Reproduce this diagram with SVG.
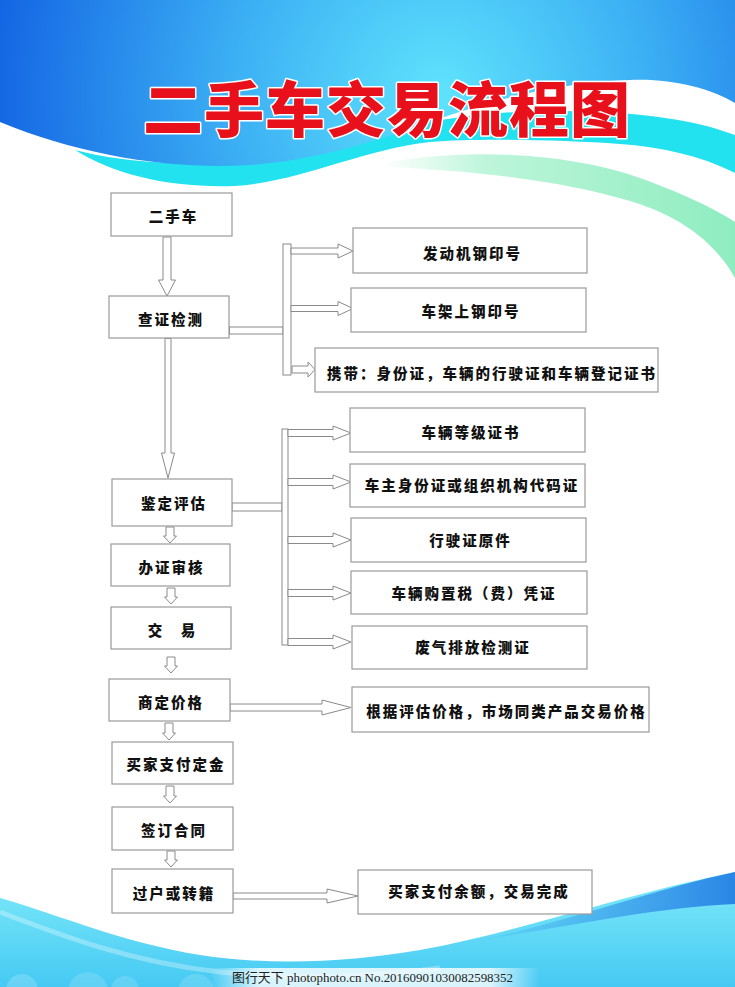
<svg xmlns="http://www.w3.org/2000/svg" width="735" height="987" viewBox="0 0 735 987">
<defs>
<radialGradient id="gTop" gradientUnits="userSpaceOnUse" cx="440" cy="95" r="460">
<stop offset="0" stop-color="#5fe3fc"/>
<stop offset="0.45" stop-color="#3cb0f4"/>
<stop offset="1" stop-color="#1262e3"/>
</radialGradient>
<linearGradient id="gMint" gradientUnits="userSpaceOnUse" x1="380" y1="0" x2="735" y2="0">
<stop offset="0" stop-color="#c0f6dc" stop-opacity="0"/>
<stop offset="0.3" stop-color="#bdf5da"/>
<stop offset="1" stop-color="#8eedc0"/>
</linearGradient>
<linearGradient id="gBot" gradientUnits="userSpaceOnUse" x1="0" y1="900" x2="0" y2="987">
<stop offset="0" stop-color="#72e3f8"/>
<stop offset="1" stop-color="#45c9f3"/>
</linearGradient>
<linearGradient id="gBotBlue" gradientUnits="userSpaceOnUse" x1="470" y1="0" x2="735" y2="0">
<stop offset="0" stop-color="#2a86e6" stop-opacity="0"/>
<stop offset="1" stop-color="#2a86e6"/>
</linearGradient>
<linearGradient id="gMark" gradientUnits="userSpaceOnUse" x1="210" y1="0" x2="540" y2="0">
<stop offset="0" stop-color="#ffffff" stop-opacity="0"/>
<stop offset="0.15" stop-color="#ffffff" stop-opacity="0.8"/>
<stop offset="0.85" stop-color="#ffffff" stop-opacity="0.8"/>
<stop offset="1" stop-color="#ffffff" stop-opacity="0"/>
</linearGradient>
</defs>
<style>
.box{fill:#ffffff;stroke:#9a9a9a;stroke-width:1.2}
.lbl{font-family:"Noto Sans CJK SC","Noto Sans",sans-serif;font-weight:900;font-size:14.5px;letter-spacing:2px;fill:#111111;text-anchor:middle}
.arr{fill:#ffffff;stroke:#8a8a8a;stroke-width:1}
.title{font-family:"Noto Sans CJK SC","Noto Sans",sans-serif;font-weight:900;font-size:60px;letter-spacing:1px;fill:#e8101a;stroke:#ffffff;stroke-width:3;paint-order:stroke;stroke-linejoin:round}
</style>
<rect x="0" y="0" width="735" height="987" fill="#ffffff"/>
<g id="background">
<path d="M370,166 C450,148 560,150 640,178 C690,196 720,212 735,222 V278 C715,242 680,216 630,201 C560,180 470,170 370,166 Z" fill="url(#gMint)"/>
<path d="M75,150 C150,170 280,170 380,135 C440,115 520,108 600,112 C660,115 700,122 735,135 V173 C700,155 660,147 620,144 C560,140 480,138 430,142 C360,150 300,182 234,186 C170,188 115,175 75,150 Z" fill="#22e2f0"/>
<path d="M0,0 H735 V103 C710,88 670,78 630,80 C570,82 510,95 450,115 C380,140 320,160 250,165 C170,170 80,155 0,122 Z" fill="url(#gTop)"/>
<path d="M0,898 C60,915 120,942 200,955 C270,966 350,962 420,950 C520,932 620,895 735,872 V987 H0 Z" fill="url(#gBot)"/>
<path d="M470,942 C560,925 650,890 735,872 V904 C650,908 560,928 470,942 Z" fill="url(#gBotBlue)"/>
<path d="M0,912 C60,935 130,962 220,972 C300,980 380,976 440,968" fill="none" stroke="#ffffff" stroke-opacity="0.3" stroke-width="5"/>
<circle cx="22" cy="990" r="16" fill="#ffffff" fill-opacity="0.18"/>
<circle cx="88" cy="992" r="20" fill="#ffffff" fill-opacity="0.15"/>
<circle cx="125" cy="990" r="14" fill="#ffffff" fill-opacity="0.15"/>
<circle cx="196" cy="992" r="18" fill="#ffffff" fill-opacity="0.15"/>
<rect x="210" y="968" width="330" height="19" fill="url(#gMark)"/>
<text x="232" y="982" font-family="'Liberation Serif','Noto Sans CJK SC',serif" font-size="13" fill="#222222" textLength="281" lengthAdjust="spacingAndGlyphs">图行天下 photophoto.cn No.20160901030082598352</text>
</g>
<text class="title" x="143" y="132">二手车交易流程图</text>
<g id="connectors">
<polygon class="arr" points="163,237 171,237 171,280 175.5,280 167,296 158.5,280 163,280"/>
<polygon class="arr" points="165,338.5 171,338.5 171,453 174.5,453 168,478 161.5,453 165,453"/>
<polygon class="arr" points="166,527 174,527 174,536 176.5,536 170,543 163.5,536 166,536"/>
<polygon class="arr" points="167,588 175,588 175,597 177.5,597 171,604 164.5,597 167,597"/>
<polygon class="arr" points="167,657 175,657 175,666 177.5,666 171,673 164.5,666 167,666"/>
<polygon class="arr" points="165,723 173,723 173,733 175.5,733 169,740 162.5,733 165,733"/>
<polygon class="arr" points="166,786 174,786 174,796 176.5,796 170,803 163.5,796 166,796"/>
<polygon class="arr" points="167,851 175,851 175,860 177.5,860 171,867 164.5,860 167,860"/>
<rect class="arr" x="229.5" y="327" width="53.5" height="7"/>
<rect class="arr" x="283" y="244" width="8" height="131"/>
<polygon class="arr" points="291,248 338,248 338,244 353,251 338,258 338,254 291,254"/>
<polygon class="arr" points="291,305.5 338,305.5 338,301.5 353,308.5 338,315.5 338,311.5 291,311.5"/>
<polygon class="arr" points="292,366 308,366 308,362 315,369.5 308,377 308,373 292,373"/>
<rect class="arr" x="232" y="503" width="50" height="8"/>
<rect class="arr" x="282" y="429" width="6" height="216"/>
<polygon class="arr" points="288,429.5 333,429.5 333,426 351,433 333,440 333,436.5 288,436.5"/>
<polygon class="arr" points="288,478.5 333,478.5 333,475 351,482 333,489 333,485.5 288,485.5"/>
<polygon class="arr" points="288,536.5 333,536.5 333,533 351,540 333,547 333,543.5 288,543.5"/>
<polygon class="arr" points="288,589.5 333,589.5 333,586 351,593 333,600 333,596.5 288,596.5"/>
<polygon class="arr" points="288,638.5 333,638.5 333,635 351,642 333,649 333,645.5 288,645.5"/>
<polygon class="arr" points="230,704 322,704 322,700 351,707.5 322,715 322,711 230,711"/>
<polygon class="arr" points="233,893 327,893 327,889 358,896 327,903 327,899 233,899"/>
</g>
<g id="n1"><rect class="box" x="111" y="193" width="121" height="43"/><text class="lbl" x="173.5" y="221.5">二手车</text></g>
<g id="n2"><rect class="box" x="109" y="296" width="120" height="42"/><text class="lbl" x="171" y="325">查证检测</text></g>
<g id="n3"><rect class="box" x="112" y="479" width="120" height="47"/><text class="lbl" x="174" y="508.5">鉴定评估</text></g>
<g id="n4"><rect class="box" x="111" y="544" width="119" height="42"/><text class="lbl" x="171.5" y="573">办证审核</text></g>
<g id="n5"><rect class="box" x="111" y="607" width="120" height="42"/><text class="lbl" x="172.5" y="635.5">交　易</text></g>
<g id="n6"><rect class="box" x="109" y="679" width="121" height="42"/><text class="lbl" x="171" y="707.5">商定价格</text></g>
<g id="n7"><rect class="box" x="112" y="742" width="121" height="42"/><text class="lbl" x="176" y="770">买家支付定金</text></g>
<g id="n8"><rect class="box" x="112" y="807" width="121" height="43"/><text class="lbl" x="174" y="835.5">签订合同</text></g>
<g id="n9"><rect class="box" x="112" y="869" width="121" height="44"/><text class="lbl" x="174" y="899">过户或转籍</text></g>
<g id="r1"><rect class="box" x="353" y="228" width="234" height="45"/><text class="lbl" x="472.5" y="258.5">发动机钢印号</text></g>
<g id="r2"><rect class="box" x="351" y="288" width="235" height="44"/><text class="lbl" x="471" y="316.5">车架上钢印号</text></g>
<g id="r3"><rect class="box" x="315" y="348" width="343" height="44"/><text class="lbl" x="492" y="378.5">携带：身份证，车辆的行驶证和车辆登记证书</text></g>
<g id="r4"><rect class="box" x="350" y="408" width="235" height="44"/><text class="lbl" x="471" y="437.5">车辆等级证书</text></g>
<g id="r5"><rect class="box" x="350" y="464" width="235" height="43"/><text class="lbl" x="472" y="491">车主身份证或组织机构代码证</text></g>
<g id="r6"><rect class="box" x="351" y="518" width="235" height="44"/><text class="lbl" x="470.5" y="545.5">行驶证原件</text></g>
<g id="r7"><rect class="box" x="351" y="571" width="236" height="43"/><text class="lbl" x="474" y="598.5">车辆购置税（费）凭证</text></g>
<g id="r8"><rect class="box" x="352" y="626" width="235" height="43"/><text class="lbl" x="473" y="653">废气排放检测证</text></g>
<g id="r9"><rect class="box" x="352" y="687" width="297" height="45"/><text class="lbl" x="506.5" y="716.5">根据评估价格，市场同类产品交易价格</text></g>
<g id="r10"><rect class="box" x="358" y="870" width="234" height="44"/><text class="lbl" x="479" y="897">买家支付余额，交易完成</text></g>
</svg>
